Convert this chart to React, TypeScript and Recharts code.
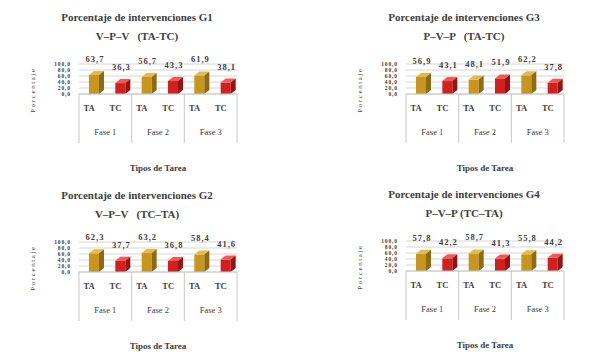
import React from 'react';
import { BarChart, Bar, XAxis, YAxis, CartesianGrid, Cell, LabelList } from 'recharts';

// categorías y fases
const tareas = ['TA', 'TC', 'TA', 'TC', 'TA', 'TC'];
const fases = ['Fase 1', 'Fase 1', 'Fase 2', 'Fase 2', 'Fase 3', 'Fase 3'];
const yTicks = [0, 20, 40, 60, 80, 100];

// porcentajes por grupo
const g1 = [63.7, 36.3, 56.7, 43.3, 61.9, 38.1];
const g2 = [62.3, 37.7, 63.2, 36.8, 58.4, 41.6];
const g3 = [56.9, 43.1, 48.1, 51.9, 62.2, 37.8];
const g4 = [57.8, 42.2, 58.7, 41.3, 55.8, 44.2];

const titles = [
  'Porcentaje de intervenciones G1',
  'Porcentaje de intervenciones G3',
  'Porcentaje de intervenciones G2',
  'Porcentaje de intervenciones G4',
];
const subtitles = ['V–P–V   (TA-TC)', 'P–V–P   (TA-TC)', 'V–P–V   (TC–TA)', 'P–V–P (TC–TA)'];

const COLORS: Record<string, [string, string, string]> = {
  TA: ['#c8961c', '#e2ba50', '#8f6a10'],
  TC: ['#d41f1f', '#ec5a5a', '#981212'],
};

const W = 260;
const H = 180;
const PLOT_L = 79;
const PLOT_R = 237;
const PLOT_T = 64;
const PLOT_B = 94;
const AX1 = 26;
const AX2 = 23;
const BAND = (PLOT_R - PLOT_L) / tareas.length;
const TXT = '#404040';
const SERIF = 'Liberation Serif';

const fmt = (v: number) => v.toFixed(1).replace('.', ',');

const Bar3D = (props: any) => {
  const { x, y, width, height, payload } = props;
  const [front, top, side] = COLORS[payload.tarea];
  const dx = 5;
  const dy = 4;
  const bx = x + 2;
  return (
    <g>
      <rect x={bx} y={y} width={width} height={height} fill={front} />
      <polygon points={`${bx},${y} ${bx + dx},${y - dy} ${bx + width + dx},${y - dy} ${bx + width},${y}`} fill={top} />
      <polygon
        points={`${bx + width},${y} ${bx + width + dx},${y - dy} ${bx + width + dx},${y + height - dy} ${bx + width},${y + height}`}
        fill={side}
      />
    </g>
  );
};

const TareaTick = (props: any) => {
  const { x, y, payload, index } = props;
  return (
    <g>
      {index % 2 === 0 && <line x1={x - BAND / 2} y1={y} x2={x - BAND / 2} y2={y + AX1 + AX2} stroke="#c8c8c8" />}
      {index === tareas.length - 1 && (
        <line x1={x + BAND / 2} y1={y} x2={x + BAND / 2} y2={y + AX1 + AX2} stroke="#c8c8c8" />
      )}
      <text x={x - 3} y={y + 14} textAnchor="middle" dominantBaseline="central" fontSize={8.5} fontWeight={700} fill={TXT} fontFamily={SERIF}>
        {payload.value}
      </text>
    </g>
  );
};

const FaseTick = (props: any) => {
  const { x, y, payload } = props;
  return (
    <text x={x} y={y + 12} textAnchor="middle" dominantBaseline="central" fontSize={8.5} fill={TXT} fontFamily={SERIF}>
      {payload.value}
    </text>
  );
};

const ValueLabel = (props: any) => {
  const { x, y, width, value } = props;
  return (
    <text x={x + width / 2 + 3} y={y - 16} textAnchor="middle" dominantBaseline="central" fontSize={8.5} fontWeight={700}
      letterSpacing={1} fill={TXT} fontFamily={SERIF}>
      {fmt(value)}
    </text>
  );
};

const Panel = ({ values, title, subtitle, left, top }: { values: number[]; title: string; subtitle: string; left: number; top: number }) => {
  const data = tareas.map((t, i) => ({ tarea: t, fase: fases[i], valor: values[i] }));
  return (
    <div style={{ position: 'absolute', left, top, width: W, height: H }}>
      <div style={{ position: 'absolute', left: 137, top: 17, transform: 'translate(-50%,-50%)', whiteSpace: 'nowrap',
        fontFamily: SERIF, fontWeight: 700, fontSize: 11, color: TXT }}>{title}</div>
      <div style={{ position: 'absolute', left: 137, top: 36, transform: 'translate(-50%,-50%)', whiteSpace: 'pre',
        fontFamily: SERIF, fontWeight: 700, fontSize: 11, color: TXT }}>{subtitle}</div>
      <div style={{ position: 'absolute', left: 33, top: 90, transform: 'translate(-50%,-50%) rotate(-90deg)', whiteSpace: 'nowrap',
        fontFamily: SERIF, fontSize: 7, letterSpacing: 1.6, color: TXT }}>Porcentaje</div>
      <div style={{ position: 'absolute', left: 158, top: 168, transform: 'translate(-50%,-50%)', whiteSpace: 'nowrap',
        fontFamily: SERIF, fontWeight: 700, fontSize: 9, color: TXT }}>Tipos de Tarea</div>
      <div style={{ position: 'absolute', left: 0, top: 0 }}>
        <BarChart width={W} height={H} data={data} barSize={10}
          margin={{ top: PLOT_T, right: W - PLOT_R, bottom: H - PLOT_B - AX1 - AX2, left: PLOT_L - 24 }}>
          <CartesianGrid vertical={false} stroke="#d6d6d6" />
          <XAxis dataKey="tarea" height={AX1} tickSize={0} tickMargin={0} tickLine={false} interval={0}
            axisLine={{ stroke: '#c8c8c8' }} tick={<TareaTick />} />
          <XAxis xAxisId="fase" dataKey="fase" allowDuplicatedCategory={false} height={AX2} tickSize={0} tickMargin={0}
            tickLine={false} axisLine={false} interval={0} tick={<FaseTick />} />
          <YAxis width={24} domain={[0, 100]} ticks={yTicks} interval={0} tickFormatter={fmt} axisLine={false} tickLine={false}
            tickSize={0} tickMargin={8} tick={{ fontSize: 5.5, fill: TXT, fontFamily: SERIF, fontWeight: 700, letterSpacing: 0.9 }} />
          <Bar dataKey="valor" isAnimationActive={false} shape={<Bar3D />}>
            {data.map((d, i) => (
              <Cell key={i} fill={COLORS[d.tarea][0]} />
            ))}
            <LabelList dataKey="valor" content={<ValueLabel />} />
          </Bar>
        </BarChart>
      </div>
    </div>
  );
};

const panels = [
  { values: g1, left: 0, top: 0 },
  { values: g3, left: 327, top: 0 },
  { values: g2, left: 0, top: 178 },
  { values: g4, left: 327, top: 177 },
];

export default function App() {
  return (
    <div style={{ position: 'absolute', left: 0, top: 0, width: 589, height: 361, background: '#fff', overflow: 'hidden' }}>
      {panels.map((p, i) => (
        <Panel key={i} values={p.values} title={titles[i]} subtitle={subtitles[i]} left={p.left} top={p.top} />
      ))}
    </div>
  );
}
